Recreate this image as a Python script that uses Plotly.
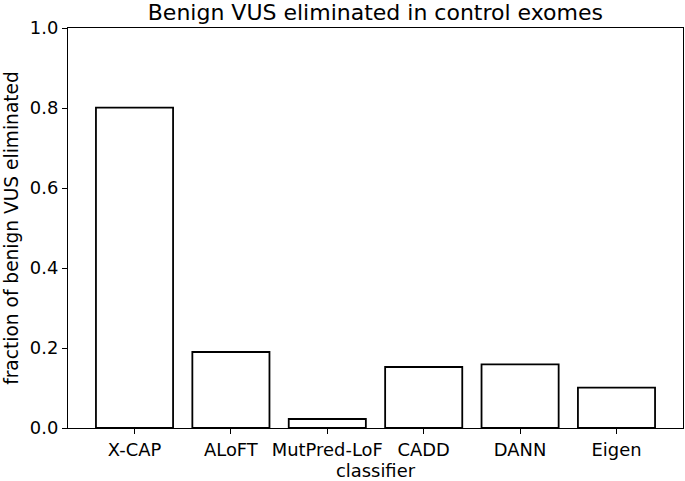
import plotly.graph_objects as go

classifiers = ["X-CAP", "ALoFT", "MutPred-LoF", "CADD", "DANN", "Eigen"]
fraction_eliminated = [0.801, 0.190, 0.0225, 0.1525, 0.159, 0.101]
y_ticks = [0.0, 0.2, 0.4, 0.6, 0.8, 1.0]

fig = go.Figure(go.Bar(
    x=list(range(len(classifiers))),
    y=fraction_eliminated,
    width=0.8,
    marker=dict(color="white", line=dict(color="black", width=1.8)),
))

font = "DejaVu Sans"
fs = 17.9
fig.update_layout(
    width=685, height=481,
    margin=dict(l=68, r=2, t=28, b=53),
    plot_bgcolor="white", paper_bgcolor="white",
    showlegend=False,
    title=dict(text="Benign VUS eliminated in control exomes", x=0.548, xanchor="center",
               y=1 - 12 / 481, yanchor="middle", font=dict(family=font, size=22, color="black")),
    font=dict(family=font, color="black", size=fs),
)
fig.update_xaxes(
    range=[-0.69, 5.69], tickmode="array", tickvals=list(range(len(classifiers))),
    ticktext=classifiers, ticks="outside", ticklen=5, tickwidth=1.1, tickcolor="black",
    showline=True, linecolor="black", linewidth=1.2, mirror=True, showgrid=False, zeroline=False,
    title=dict(text="classifier", font=dict(size=fs), standoff=2),
    tickfont=dict(size=fs),
)
fig.update_yaxes(
    range=[0, 1.0], tickmode="array", tickvals=y_ticks, ticktext=[f"{v:.1f}" for v in y_ticks],
    ticks="outside", ticklen=5, tickwidth=1.1, tickcolor="black",
    showline=True, linecolor="black", linewidth=1.2, mirror=True, showgrid=False, zeroline=False,
    title=dict(text="fraction of benign VUS eliminated", font=dict(size=18.6), standoff=6),
    tickfont=dict(size=fs),
)
fig.write_html("out.html", config={"displayModeBar": False},
               post_script="document.body.style.margin='0px';")
